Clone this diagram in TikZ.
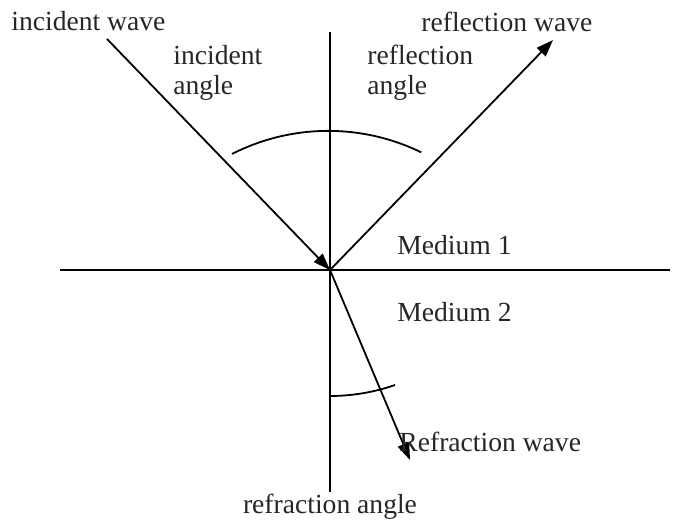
\documentclass[tikz,border=0pt]{standalone}
\usepackage{fontspec}
\setmainfont{Liberation Serif}
\usetikzlibrary{arrows.meta}
\begin{document}
\begin{tikzpicture}[x=0.5pt,y=0.5pt,
  ln/.style={line width=0.9pt},
  arr/.style={ln,-{Triangle[length=8.5pt,width=6pt]}},
  lbl/.style={inner sep=0pt,text=black!85,font=\fontsize{13.8}{15}\selectfont},
  lblw/.style={lbl,anchor=west,align=left}]
\useasboundingbox (0,0) rectangle (673,522);
\coordinate (O) at (330,252);
\coordinate (hl) at (60,252);
\coordinate (hr) at (670,252);
\coordinate (vt) at (330,490);
\coordinate (vb) at (330,30);
\coordinate (inc) at (107,483);
\coordinate (refl) at (553,482);
\coordinate (refr) at (410,62);
\coordinate (arcA) at (232,368);
\coordinate (arcB) at (330,126);
\draw[ln] (hl) -- (hr);
\draw[ln] (vt) -- (vb);
\draw[arr] (inc) -- (O);
\draw[arr] (O) -- (refl);
\draw[arr] (O) -- (refr);
\draw[ln] (arcA) arc[start angle=117,end angle=64,radius=212];
\draw[ln] (arcB) arc[start angle=-90,end angle=-70.8,radius=198];
\node[lblw] (tincw) at (11,501) {incident wave};
\node[lblw] (tinca) at (173,449) {incident\\angle};
\node[lblw] (trefa) at (367,449) {reflection\\angle};
\node[lblw] (treflw) at (421,500) {reflection wave};
\node[lblw] (tm1) at (397,277) {Medium 1};
\node[lblw] (tm2) at (397,210) {Medium 2};
\node[lblw] (trefrw) at (399,80) {Refraction wave};
\node[lbl] (trefra) at (330,15) {refraction angle};
\end{tikzpicture}
\end{document}
